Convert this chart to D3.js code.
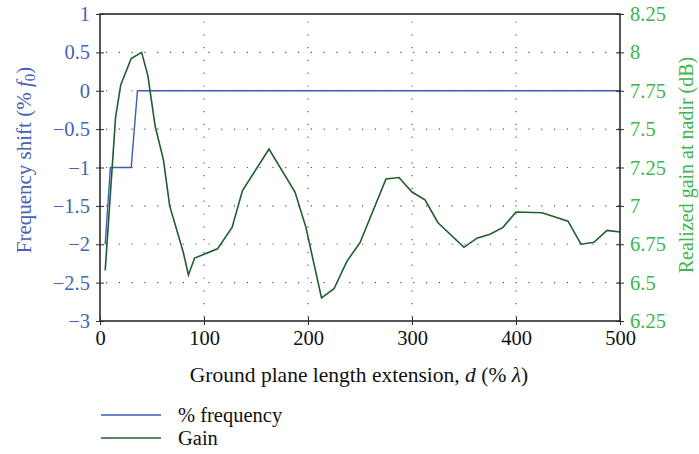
<!doctype html>
<html lang="en">
<head>
<meta charset="utf-8">
<script src="https://d3js.org/d3.v7.min.js"></script>
<style>
body { margin: 0; background: #fff; }
text { font-family: "Liberation Serif", "DejaVu Serif", serif; }
.grid line { stroke: #555; stroke-width: 1.2; stroke-dasharray: 1.2 11.6; }
</style>
</head>
<body>
<script>
// frequency shift (% f0) vs extension d (% lambda)
var freqD = [5, 10, 30, 36, 500];
var freqShift = [-2, -1, -1, 0, 0];

// realized gain at nadir (dB)
var gainD = [5, 15, 20, 30, 40, 46, 53, 61, 67, 80, 85, 91, 113, 127, 137, 162.5, 187.5, 198,
             213, 225, 237.5, 250, 275, 287.5, 300, 312.5, 325, 350, 362.5, 375, 387.5, 400,
             425, 450, 462.5, 475, 487.5, 500];
var gainDb = [6.58, 7.58, 7.79, 7.96, 8.0, 7.85, 7.52, 7.30, 7.0, 6.70, 6.55, 6.66, 6.72, 6.86, 7.10, 7.37, 7.09, 6.86,
              6.40, 6.46, 6.64, 6.76, 7.175, 7.185, 7.09, 7.04, 6.89, 6.73, 6.79, 6.815, 6.86, 6.96,
              6.955, 6.90, 6.75, 6.763, 6.84, 6.83];

var xTicks = [0, 100, 200, 300, 400, 500];
var leftTicks = [1, 0.5, 0, -0.5, -1, -1.5, -2, -2.5, -3];
var rightTicks = [8.25, 8, 7.75, 7.5, 7.25, 7, 6.75, 6.5, 6.25];

var W = 699, H = 454;
var L = 100, R = 620, T = 14, B = 321;
var fs = 20.5;

var svg = d3.select("body").append("svg").attr("width", W).attr("height", H);

var x = d3.scaleLinear().domain([0, 500]).range([L, R]);
var yL = d3.scaleLinear().domain([-3, 1]).range([B, T]);
var yR = d3.scaleLinear().domain([6.25, 8.25]).range([B, T]);

// dotted grid
var grid = svg.append("g").attr("class", "grid");
grid.selectAll(".v").data([100, 200, 300, 400]).enter().append("line")
  .attr("x1", d => x(d)).attr("x2", d => x(d)).attr("y1", B - 4).attr("y2", T);
grid.selectAll(".h").data(leftTicks.filter(d => d > -3 && d < 1)).enter().append("line")
  .attr("y1", d => yL(d)).attr("y2", d => yL(d)).attr("x1", L + 6).attr("x2", R);

// lines
var freqLine = d3.line().x((d, i) => x(freqD[i])).y(d => yL(d));
var gainLine = d3.line().x((d, i) => x(gainD[i])).y(d => yR(d));

svg.append("path").datum(freqShift).attr("d", freqLine)
  .attr("fill", "none").attr("stroke", "#3d5cb4").attr("stroke-width", 1.4);
svg.append("path").datum(gainDb).attr("d", gainLine)
  .attr("fill", "none").attr("stroke", "#1f5e2c").attr("stroke-width", 1.6);

// frame
svg.append("rect").attr("x", L).attr("y", T).attr("width", R - L).attr("height", B - T)
  .attr("fill", "none").attr("stroke", "#2b2b2b").attr("stroke-width", 1.6);

// axes
var gx = svg.append("g").attr("transform", "translate(0," + B + ")").call(
  d3.axisBottom(x).tickValues(xTicks).tickSize(4).tickPadding(5).tickFormat(d3.format("")));
gx.select(".domain").remove();
gx.selectAll(".tick line").attr("y1", -4).attr("stroke", "#2b2b2b");
gx.selectAll("text").attr("font-size", fs).attr("fill", "#111");

var gl = svg.append("g").attr("transform", "translate(" + L + ",0)").call(
  d3.axisLeft(yL).tickValues(leftTicks).tickSize(4).tickPadding(6).tickFormat(d3.format("")));
gl.select(".domain").remove();
gl.selectAll(".tick line").attr("x1", 4).attr("stroke", "#2b2b2b");
gl.selectAll("text").attr("font-size", fs).attr("fill", "#4762b3");

var gr = svg.append("g").attr("transform", "translate(" + R + ",0)").call(
  d3.axisRight(yR).tickValues(rightTicks).tickSize(4).tickPadding(6).tickFormat(d3.format("")));
gr.select(".domain").remove();
gr.selectAll(".tick line").attr("x1", -4).attr("stroke", "#2b2b2b");
gr.selectAll("text").attr("font-size", fs).attr("fill", "#3db54c");

// axis titles
svg.append("text").attr("transform", "translate(31,160) rotate(-90)")
  .attr("text-anchor", "middle").attr("font-size", 21).attr("fill", "#4762b3")
  .html('Frequency shift (% <tspan font-style="italic">f</tspan><tspan font-size="15" dy="4">0</tspan><tspan dy="-4">)</tspan>');

svg.append("text").attr("transform", "translate(693,165) rotate(-90)")
  .attr("text-anchor", "middle").attr("font-size", 20).attr("fill", "#3db54c")
  .text("Realized gain at nadir (dB)");

svg.append("text").attr("x", 359).attr("y", 382).attr("text-anchor", "middle")
  .attr("font-size", 21.5).attr("fill", "#111")
  .html('Ground plane length extension, <tspan font-style="italic">d</tspan> (% <tspan font-style="italic">λ</tspan>)');

// legend
var legend = [
  { name: "% frequency", color: "#3d5cb4" },
  { name: "Gain", color: "#1f5e2c" }
];
var lg = svg.selectAll(".leg").data(legend).enter().append("g")
  .attr("transform", (d, i) => "translate(101," + (415 + i * 23) + ")");
lg.append("line").attr("x1", 0).attr("x2", 60).attr("stroke", d => d.color).attr("stroke-width", 1.4);
lg.append("text").attr("x", 77).attr("y", 0).attr("dy", "0.32em").attr("font-size", 20.5)
  .attr("fill", "#111").text(d => d.name);
</script>
</body>
</html>
